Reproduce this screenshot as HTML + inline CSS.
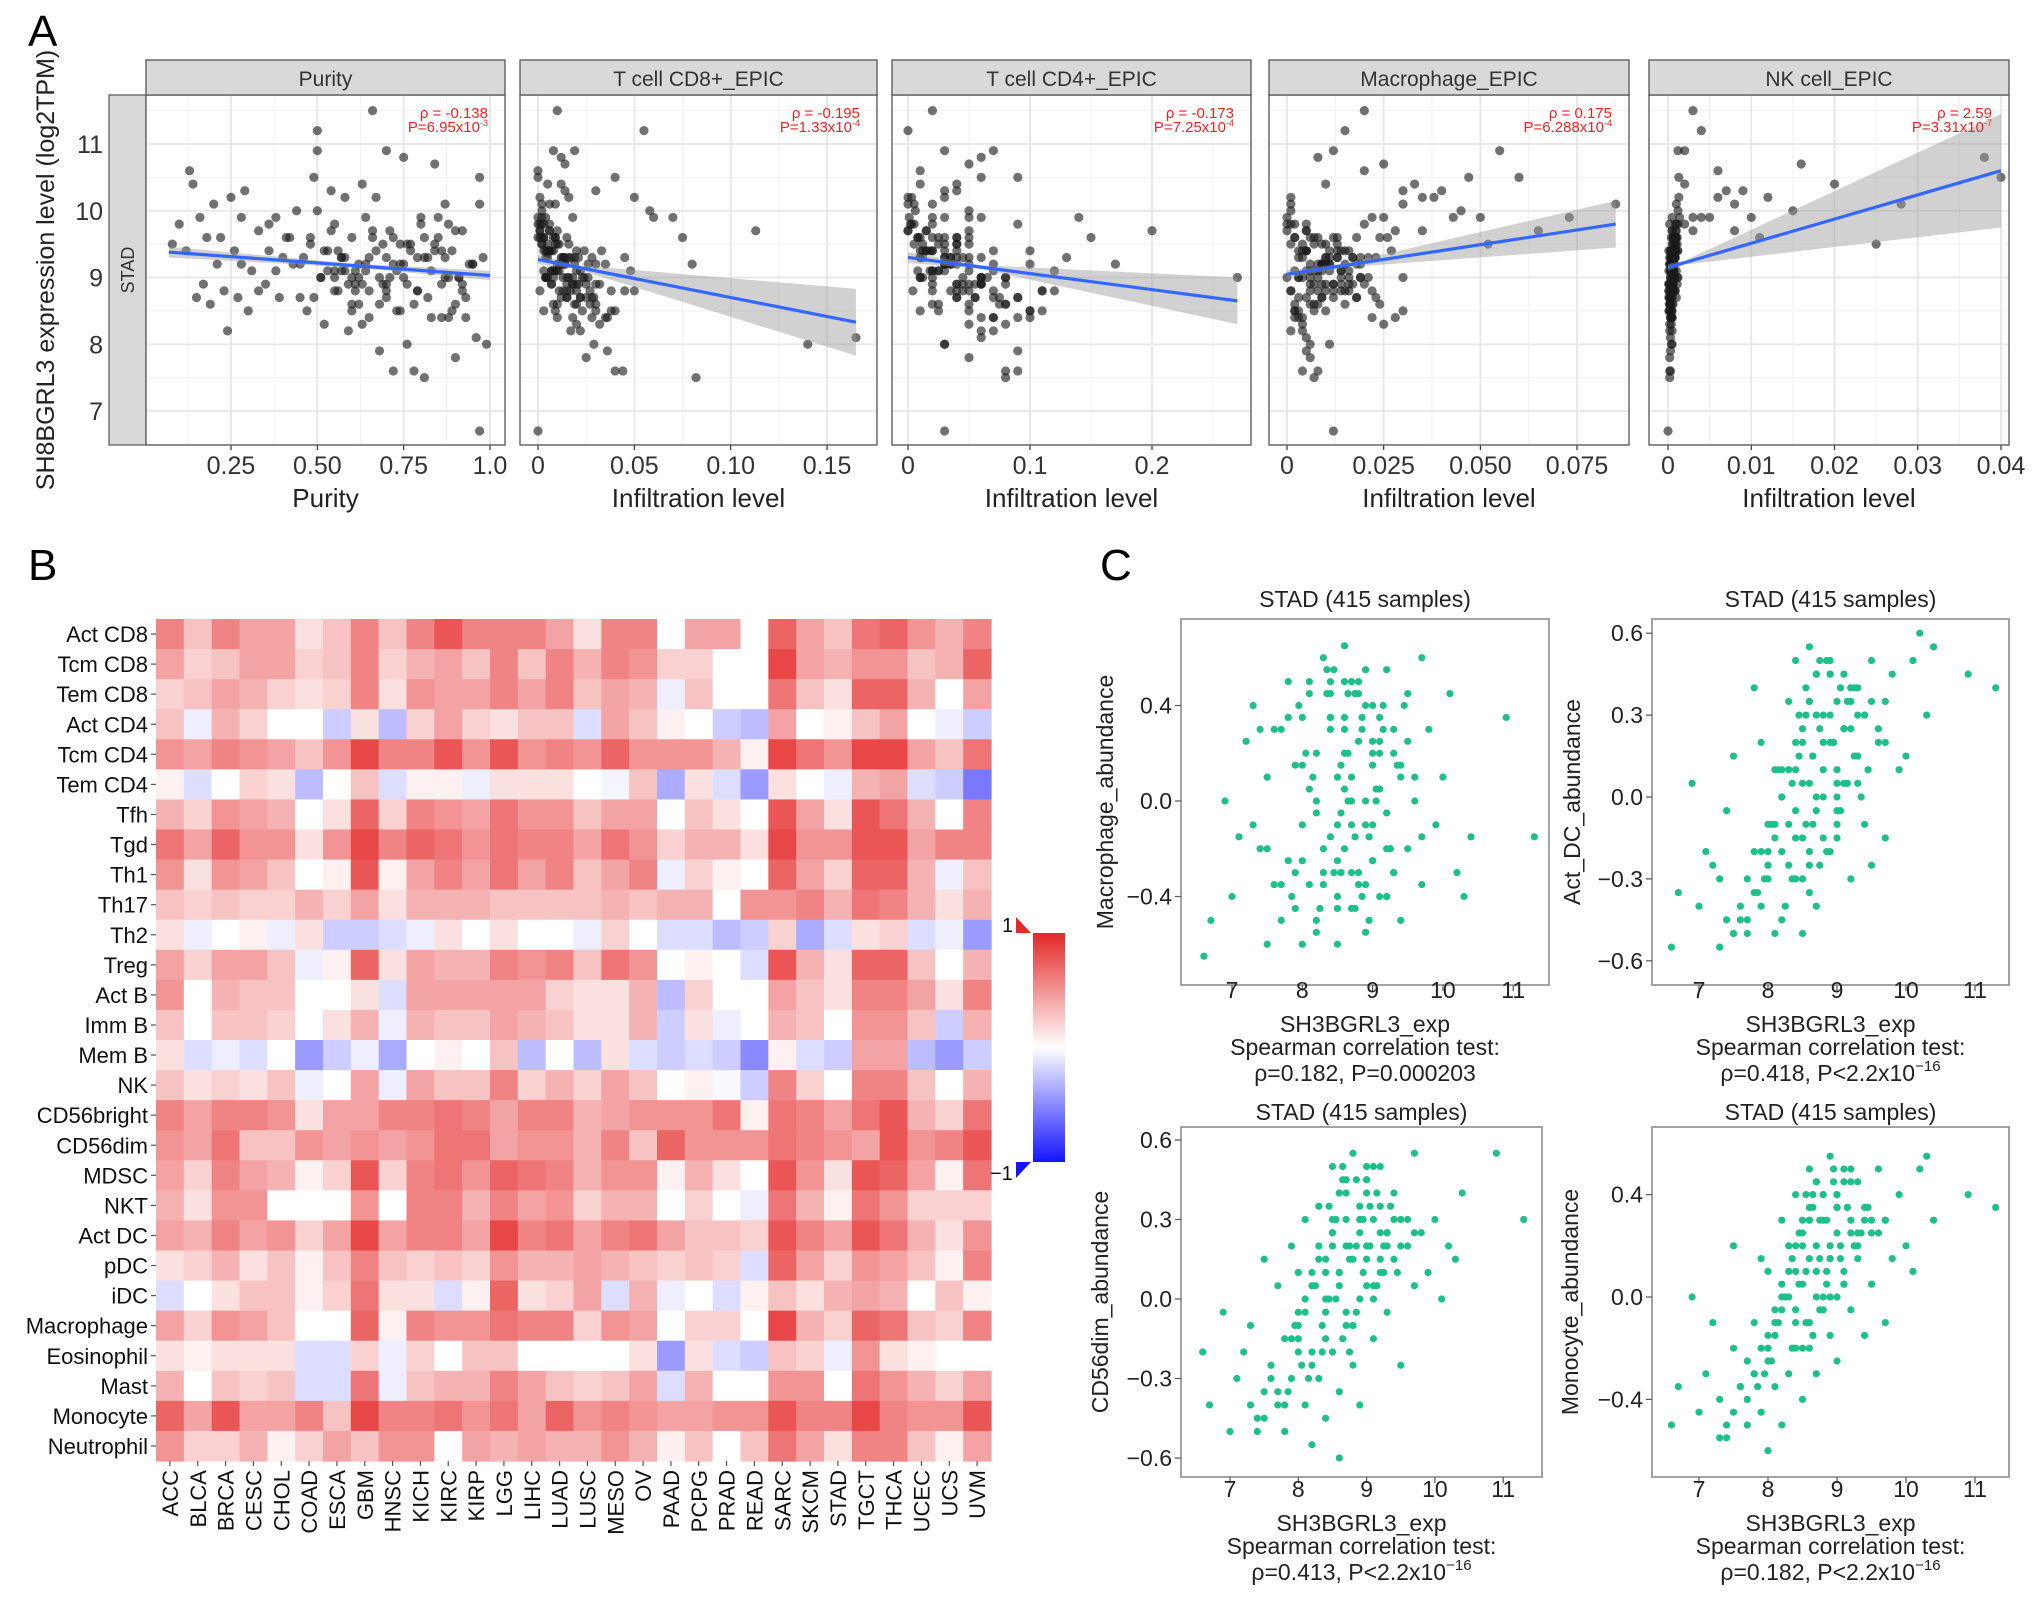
<!DOCTYPE html>
<html><head><meta charset="utf-8">
<style>
html,body{margin:0;padding:0;background:#fff;}
svg{display:block;}
.na{font-family:"Liberation Sans Narrow","Liberation Sans",sans-serif;}
.sa{font-family:"Liberation Sans",sans-serif;}
</style></head>
<body>
<svg id="fig" xmlns="http://www.w3.org/2000/svg" width="2032" height="1600" viewBox="0 0 2032 1600">
<rect x="0" y="0" width="2032" height="1600" fill="#fff"/>
<text x="28" y="46" font-size="44" class="sa">A</text>
<text x="28" y="580" font-size="44" class="sa">B</text>
<text x="1100" y="580" font-size="44" class="sa">C</text>
<text transform="translate(54,270) rotate(-90)" text-anchor="middle" font-size="25" class="sa" fill="#222">SH8BGRL3 expression level (log2TPM)</text>
<rect x="109" y="95" width="37" height="350" fill="#d9d9d9" stroke="#555" stroke-width="1.2"/>
<text transform="translate(134,270) rotate(-90)" text-anchor="middle" font-size="18" class="na" fill="#333">STAD</text>
<g id="gA"></g>
<g id="gB"></g>
<g id="gC"></g>
</svg>
<script>
// ---------- Panel A data ----------
const aExp = [9.5,9.8,9.4,10.6,10.4,8.7,9.9,8.9,9.6,8.6,10.1,9.2,9.6,8.8,8.2,10.2,9.4,8.7,9.9,10.3,8.5,9.1,9.7,8.9,9.4,9.9,8.7,9.3,9.6,10.0,9.2,8.5,9.6,10.5,11.2,10.9,9.0,8.3,9.4,10.3,9.8,8.8,9.3,10.2,8.2,9.6,9.1,8.6,10.4,9.9,8.4,11.5,9.4,7.9,8.9,10.9,9.7,7.6,8.5,9.2,10.8,8.0,9.5,7.6,8.8,9.9,7.5,9.3,8.4,10.7,9.6,8.9,10.1,8.4,9.4,7.8,9.0,9.7,8.7,9.2,8.1,10.5,9.3,8.0,6.7,9.0,9.3,9.1,8.8,9.0];
const aExp2 = [9.0,9.2,8.8,9.5,9.1,8.6,9.3,9.7,8.9,9.4,9.0,8.5,9.6,9.2,8.7,9.8,9.1,8.4,9.3,9.5,8.9,10.0,9.2,8.8,9.4,9.0,8.6,9.7,9.3,8.3,9.1,9.6,8.9,9.2,10.2,8.7,9.4,9.0,8.5,9.8,9.3,8.8,9.1,9.5,9.0,8.6,9.9,9.2,8.9,9.4,9.1,8.4,9.6,9.3,8.7,9.0,9.8,9.2,8.8,9.5,9.1,8.6,9.3,10.1,8.9,9.4,9.0,8.5,9.7,9.2,8.8,9.1,9.6,8.7,9.3,9.0,8.9,9.5,9.2,8.8];
const purityX = [0.08,0.1,0.12,0.13,0.14,0.15,0.16,0.17,0.18,0.19,0.2,0.21,0.22,0.23,0.24,0.25,0.26,0.27,0.28,0.29,0.3,0.31,0.33,0.35,0.36,0.38,0.39,0.4,0.42,0.44,0.45,0.47,0.48,0.49,0.5,0.5,0.51,0.52,0.53,0.54,0.55,0.56,0.57,0.58,0.59,0.6,0.61,0.62,0.63,0.64,0.65,0.66,0.67,0.68,0.69,0.7,0.71,0.72,0.73,0.74,0.75,0.76,0.77,0.78,0.79,0.8,0.81,0.82,0.83,0.84,0.85,0.86,0.87,0.88,0.89,0.9,0.91,0.92,0.93,0.95,0.96,0.97,0.98,0.99,0.97,0.6,0.7,0.55,0.65,0.75];
const purityX2 = [0.55,0.62,0.7,0.48,0.83,0.9,0.58,0.66,0.76,0.52,0.88,0.6,0.72,0.94,0.45,0.8,0.64,0.86,0.57,0.69,0.92,0.5,0.75,0.61,0.84,0.68,0.78,0.54,0.87,0.63,0.73,0.41,0.59,0.95,0.67,0.82,0.56,0.71,0.89,0.36,0.65,0.79,0.53,0.74,0.91,0.6,0.85,0.43,0.7,0.77,0.58,0.93,0.66,0.81,0.49,0.62,0.88,0.72,0.55,0.84,0.38,0.68,0.79,0.97,0.61,0.86,0.51,0.74,0.9,0.64,0.33,0.57,0.81,0.7,0.46,0.87,0.63,0.76,0.28,0.92];
const cd8X = [0.01,0.003,0.02,0.0,0.012,0.025,0.004,0.03,0.015,0.02,0.006,0.035,0.001,0.045,0.017,0.05,0.008,0.028,0.002,0.014,0.04,0.022,0.01,0.032,0.005,0.018,0.012,0.045,0.0,0.058,0.026,0.03,0.075,0.04,0.055,0.008,0.013,0.02,0.003,0.03,0.006,0.038,0.019,0.016,0.022,0.009,0.048,0.027,0.005,0.07,0.018,0.01,0.033,0.036,0.007,0.019,0.001,0.044,0.023,0.08,0.012,0.029,0.002,0.04,0.011,0.06,0.082,0.028,0.01,0.014,0.002,0.018,0.009,0.036,0.024,0.025,0.004,0.113,0.015,0.03,0.165,0.0,0.021,0.14,0.0,0.015,0.013,0.007,0.05,0.016,0.011];
const cd8X2 = [0.004,0.01,0.015,0.002,0.02,0.008,0.012,0.001,0.025,0.006,0.018,0.003,0.009,0.014,0.022,0.0,0.011,0.028,0.005,0.016,0.007,0.002,0.019,0.013,0.004,0.024,0.01,0.006,0.017,0.032,0.008,0.003,0.021,0.012,0.001,0.015,0.005,0.026,0.009,0.002,0.014,0.02,0.007,0.011,0.004,0.03,0.0,0.013,0.018,0.006,0.009,0.035,0.003,0.016,0.022,0.008,0.001,0.012,0.027,0.005,0.01,0.019,0.004,0.002,0.015,0.007,0.023,0.038,0.006,0.011,0.017,0.003,0.008,0.029,0.013,0.005,0.02,0.009,0.014,0.001];
const cd4X = [0.05,0.02,0.07,0.01,0.04,0.09,0.03,0.06,0.05,0.08,0.0,0.1,0.03,0.12,0.06,0.0,0.04,0.09,0.02,0.03,0.11,0.07,0.05,0.08,0.02,0.06,0.04,0.13,0.01,0.05,0.07,0.1,0.15,0.06,0.0,0.03,0.08,0.05,0.02,0.04,0.09,0.11,0.06,0.03,0.07,0.04,0.12,0.08,0.01,0.05,0.06,0.02,0.1,0.09,0.04,0.07,0.0,0.08,0.05,0.17,0.06,0.03,0.04,0.09,0.02,0.14,0.08,0.03,0.1,0.05,0.04,0.06,0.02,0.07,0.03,0.05,0.27,0.2,0.07,0.04,0.06,0.09,0.01,0.03,0.03,0.08,0.05,0.02,0.11,0.06,0.04];
const cd4X2 = [0.01,0.03,0.04,0.005,0.05,0.02,0.03,0.0,0.06,0.015,0.045,0.01,0.025,0.035,0.055,0.002,0.03,0.07,0.012,0.04,0.02,0.006,0.05,0.035,0.01,0.06,0.025,0.015,0.045,0.08,0.02,0.008,0.055,0.03,0.003,0.04,0.012,0.065,0.025,0.005,0.035,0.05,0.018,0.03,0.01,0.075,0.001,0.035,0.045,0.015,0.025,0.09,0.008,0.04,0.055,0.02,0.003,0.03,0.07,0.012,0.025,0.05,0.01,0.005,0.04,0.018,0.06,0.1,0.015,0.03,0.045,0.008,0.02,0.075,0.035,0.012,0.05,0.025,0.035,0.004];
const macX = [0.01,0.005,0.015,0.02,0.01,0.003,0.025,0.012,0.008,0.002,0.03,0.006,0.018,0.001,0.004,0.035,0.011,0.009,0.022,0.04,0.003,0.014,0.028,0.007,0.016,0.05,0.005,0.019,0.012,0.045,0.009,0.002,0.026,0.06,0.015,0.055,0.008,0.004,0.013,0.03,0.02,0.006,0.017,0.038,0.001,0.024,0.011,0.007,0.033,0.043,0.003,0.02,0.014,0.005,0.009,0.012,0.065,0.004,0.01,0.018,0.008,0.006,0.052,0.008,0.015,0.073,0.007,0.021,0.002,0.025,0.013,0.01,0.085,0.004,0.027,0.006,0.016,0.035,0.009,0.019,0.005,0.047,0.017,0.011,0.012,0.0,0.023,0.014,0.008,0.03,0.02];
const macX2 = [0.003,0.008,0.012,0.001,0.016,0.006,0.01,0.0,0.02,0.005,0.014,0.002,0.007,0.011,0.018,0.0,0.009,0.022,0.004,0.013,0.006,0.001,0.015,0.01,0.003,0.019,0.008,0.005,0.013,0.025,0.006,0.002,0.017,0.009,0.001,0.012,0.004,0.021,0.007,0.002,0.011,0.016,0.005,0.009,0.003,0.024,0.0,0.01,0.014,0.005,0.007,0.028,0.002,0.013,0.018,0.006,0.001,0.01,0.022,0.004,0.008,0.015,0.003,0.001,0.012,0.005,0.019,0.03,0.005,0.009,0.014,0.002,0.006,0.023,0.01,0.004,0.016,0.007,0.011,0.001];
const nkX = [0.0005,0.001,0.0003,0.006,0.002,0.0004,0.004,0.0006,0.0008,0.0002,0.008,0.0007,0.001,0.0003,0.0005,0.012,0.0009,0.0002,0.005,0.007,0.0004,0.0006,0.003,0.0001,0.0008,0.01,0.0003,0.0005,0.0011,0.015,0.0007,0.0002,0.0009,0.0013,0.004,0.002,0.0006,0.0004,0.0012,0.009,0.002,0.0003,0.0008,0.006,0.0002,0.011,0.0007,0.0005,0.02,0.003,0.0004,0.003,0.0009,0.0003,0.0006,0.0012,0.001,0.0002,0.0005,0.0007,0.038,0.0004,0.025,0.0003,0.0008,0.0014,0.0002,0.0006,0.0005,0.016,0.0009,0.0003,0.028,0.0005,0.0011,0.0002,0.0007,0.008,0.0004,0.0006,0.0003,0.04,0.0008,0.0005,0.0,0.0012,0.0007,0.0004,0.0009,0.0006,0.0003];
const nkX2 = [0.0003,0.0006,0.0001,0.0009,0.0004,0.0002,0.0007,0.0005,0.0011,0.0003,0.0008,0.0001,0.0006,0.0004,0.001,0.0002,0.0007,0.0003,0.0005,0.0009,0.0002,0.0012,0.0004,0.0006,0.0001,0.0008,0.0003,0.0005,0.0007,0.0002,0.001,0.0004,0.0006,0.0003,0.0013,0.0001,0.0008,0.0005,0.0002,0.0009,0.0004,0.0007,0.0003,0.0006,0.0011,0.0002,0.0005,0.0008,0.0001,0.0004,0.0007,0.0003,0.0006,0.0009,0.0002,0.0005,0.0012,0.0004,0.0001,0.0008,0.0003,0.0006,0.0002,0.001,0.0005,0.0007,0.0003,0.0004,0.0009,0.0002,0.0006,0.0001,0.0008,0.0005,0.0003,0.0007,0.0004,0.0011,0.0002,0.0006];
const facetNames = ["Purity","T cell CD8+_EPIC","T cell CD4+_EPIC","Macrophage_EPIC","NK cell_EPIC"];
const facetXTicks = [[0.25,0.5,0.75,1.0],[0,0.05,0.10,0.15],[0,0.1,0.2],[0,0.025,0.05,0.075],[0,0.01,0.02,0.03,0.04]];
const facetXLabels = [["0.25","0.50","0.75","1.0"],["0","0.05","0.10","0.15"],["0","0.1","0.2"],["0","0.025","0.050","0.075"],["0","0.01","0.02","0.03","0.04"]];
const facetTitles = ["Purity","Infiltration level","Infiltration level","Infiltration level","Infiltration level"];
const facetRho = ["ρ = -0.138","ρ = -0.195","ρ = -0.173","ρ = 0.175","ρ = 2.59"];
const facetP = ["P=6.95x10","P=1.33x10","P=7.25x10","P=6.288x10","P=3.31x10"];
const facetPExp = ["-3","-4","-4","-4","-7"];
const fitStart = [[0.07,9.38],[0,9.27],[0,9.3],[0,9.05],[0,9.15]];
const fitEnd = [[1.0,9.03],[0.165,8.33],[0.27,8.65],[0.085,9.8],[0.04,10.6]];
const fitMidX = [0.6,0.02,0.06,0.015,0.002];
const bandHalf = [[0.08,0.03,0.07],[0.07,0.03,0.5],[0.08,0.03,0.35],[0.06,0.03,0.35],[0.05,0.03,0.85]];
const aYTicks = [7,8,9,10,11];

// ---------- Panel B data ----------
const heatRows = ["Act CD8","Tcm CD8","Tem CD8","Act CD4","Tcm CD4","Tem CD4","Tfh","Tgd","Th1","Th17","Th2","Treg","Act B","Imm B","Mem B","NK","CD56bright","CD56dim","MDSC","NKT","Act DC","pDC","iDC","Macrophage","Eosinophil","Mast","Monocyte","Neutrophil"];
const heatCols = ["ACC","BLCA","BRCA","CESC","CHOL","COAD","ESCA","GBM","HNSC","KICH","KIRC","KIRP","LGG","LIHC","LUAD","LUSC","MESO","OV","PAAD","PCPG","PRAD","READ","SARC","SKCM","STAD","TGCT","THCA","UCEC","UCS","UVM"];
// correlation levels in sevenths (value = level/7)
const heatLevels = [
[4,2,4,3,3,1,2,4,2,4,5.5,4,4,4,3,1,4,4,0,3,3,0,5,3,2,4.5,5,3.5,2.5,4],
[3,1.5,2,3,3,1.5,2,4,1.5,2.5,3,2,4,2,4,2.5,4,3.5,1.5,1.5,0,0,6,3,2.5,3.5,3.5,2,2.5,5],
[1.5,2,3,2.5,1.5,1,1.5,4,1,3.5,3,3,4,3,4,2,3,2.5,-0.5,2,0,0,4.5,2,1,5,5,2.5,0,3],
[2,-0.5,2.5,1.5,0,0,-1.5,1,-2,1.5,3,1.5,1,2,2,-1,3,2,0.5,0,-1.5,-2,3,0,0.5,2,3,0,-0.5,-1.5],
[3.5,3,4,3.5,3,2,3.5,6,4,4,5.5,3.5,5.5,3.5,4,3.5,5,3.5,3.5,3.5,2.5,0.5,6,4.5,3.5,6,6,3,2,4.5],
[0.5,-1,0,1.5,1,-2,0,2,-1,0.5,0.5,-0.5,1,1,1,0,-0.3,2,-2.5,1,-1,-3,1,0,-0.5,2.5,3,-1,-1.5,-4],
[2.5,1.5,3.5,3,2.5,0,1,5,1.5,4,3.5,3,4.5,3.5,3.5,2,3,3,0,2,1,0,5.5,3,1,5.5,4.5,2.5,0,4],
[4.5,3,5,3.5,3.5,1,3.5,6,4,5,4.5,3.5,4.5,4,4,3,4.5,3.5,1.5,2.5,2.5,1,6,3.5,3.5,5.5,5.5,3,4,4],
[3.5,1,3.5,3,2,0,0.5,5.5,0.5,3,4,3,4.5,3,4,2,3,4,-0.5,1.5,0.5,0,5,3,1.5,5,5,2.5,-0.5,2],
[2,1.5,2,1.5,1.5,2.5,1.5,3,1,2.5,2.5,2.5,2,2,2,2,2.5,2,2.5,2.5,0,3.5,3.5,4,2.5,4.5,4,2.5,1,2.5],
[1,-0.5,0,0.5,-0.5,1,-1.5,-1.5,-1,-0.5,1,0,1,0,0,-0.5,1.5,0,-1,-1,-2,-1.5,1.5,-2.5,-1,1,1.5,-1,-0.5,-3],
[3,1.5,3,3,2,-0.5,0.5,5,1,3,2.5,2.5,4,3.5,4,2,4.5,3.5,0,0.5,0,-1,5.5,2.5,1,5,5,2,0,2.5],
[3.5,0,2.5,2,2,0,0,1,-1,3,3,3,3,3,1.5,1,1,2.5,-2,1.5,0,0,3,2,1,4,4,3,1,4],
[2,0,2,2,1.5,0,1,2.5,-0.5,2.5,2,2,3,2.5,2,1,1,2.5,-1.5,1,-0.5,0,2.5,2,0,3.5,3.5,2,-1.5,2.5],
[1,-1,-0.5,-1,0,-3,-1.5,-0.5,-2.5,0,0.5,0,2,-2,0,-2,1,-1,-1.5,-1,-1.5,-3.5,0.5,-1,-1.5,3,3,-2,-3,-1.5],
[2,1,1.5,1,2,-0.5,0,3,-0.5,3,2,2,4,1.5,2.5,1.5,3,2,0,0.5,-0.2,-1.5,4,1.5,0,4,4,2,0,2.5],
[4,3,4,4,3.5,1,3,3,4,4,4.5,4,3,4,4,2.5,3,3.5,3.5,3.5,4.5,0.5,4.5,4,3,4.5,5.5,2.5,1.5,4.5],
[3.5,3,4.5,2,2,3.5,3,3.5,3,3.5,4.5,4.5,3,3.5,3.5,2.5,4,2,5,3.5,3.5,3.5,4.5,4,3.5,3,5.5,3.5,4,5.5],
[3,1.5,4,3,2.5,0.5,1.5,5.5,1.5,4,4.5,3.5,5,4.5,4,2.5,3.5,3.5,0.5,2.5,1,0,5.5,3.5,1,5.5,5,3,0.5,4.5],
[2.5,1,3.5,3.5,0,0,0,3.5,0,4,4,2.5,4,3,3.5,1.5,2.5,2.5,0,1.5,0,-0.5,4.5,2.5,0.5,4.5,3.5,1.5,1.5,1.5],
[3,2.5,4,3,3.5,1.5,3,6,3,4,4,3,6,4,4.5,3,4,4.5,3,2,2,1.5,5.5,4,3,5.5,4.5,2.5,1,3.5],
[1,1.5,2.5,1,2,0.5,2,4,2,1.5,2,1.5,3.5,2.5,2.5,3,2.5,2,1.5,2,1.5,-1,5,3,1.5,3.5,3,2,0.5,4],
[-1,0,1,2,2,0.5,1.5,4.5,1,1,-1,0.5,5,1,1.5,3,-1,2.5,-0.5,0,-1,0.5,2,1,2.5,3,2.5,0,2,0.5],
[3,1.5,3.5,3,2,0,0,5,0.5,4,3.5,3.5,4.5,4,4,1.5,3.5,3,0,1.5,1.5,0,6,2.5,1.5,5,4.5,2,1.5,4],
[1,0.5,1,1,1,-1,-1,1.5,-0.5,1.5,0,2,2,0,0,0,0,1,-3,1,-1,-1.5,2,1.5,-0.5,3.5,1,0.5,0,0],
[2.5,0,2,1.5,2,-1,-1,4.5,-0.5,2,2.5,2.5,4,3,2,1.5,2,3,-1,2.5,0,0,3.5,3.5,0,4.5,3.5,2.5,1.5,3],
[5,3,5.5,3,3,4,2,6,4,4,4.5,3.5,4.5,3,5,3.5,4,3.5,3,3,3.5,3.5,5.5,4,4,6,4,3.5,3.5,5.5],
[3.5,1.5,1.5,2.5,0.5,1.5,3,2,3.5,3.5,0,3,2.5,3,2.5,2.5,3.5,2.5,0.5,2,0,2,4.5,3,1,4,4,2,0.5,3]
];

// ---------- Panel C data ----------
const cExp = [6.6,6.7,6.9,7.0,7.1,7.2,7.3,7.4,7.5,7.5,7.6,7.7,7.7,7.8,7.8,7.9,7.9,8.0,8.0,8.1,8.1,8.2,8.2,8.2,8.3,8.3,8.4,8.4,8.4,8.5,8.5,8.5,8.6,8.6,8.6,8.7,8.7,8.7,8.8,8.8,8.9,8.9,8.9,9.0,9.0,9.1,9.1,9.2,9.2,9.3,9.3,9.4,9.4,9.5,9.5,9.6,9.7,9.7,9.8,9.9,10.0,10.1,10.2,10.3,10.4,10.9,11.3,8.0,8.6,9.0];
const cExp2 = [7.6,7.9,8.1,8.3,8.4,8.5,8.6,8.7,8.8,8.9,9.0,9.1,9.2,9.3,7.8,8.0,8.2,8.35,8.45,8.55,8.65,8.75,8.85,8.95,9.05,9.15,9.25,9.4,7.7,8.05,8.25,8.4,8.5,8.6,8.7,8.8,8.9,9.0,9.1,9.2,9.35,9.5,7.5,7.95,8.15,8.3,8.45,8.55,8.65,8.75,8.85,8.95,9.05,9.15,9.3,9.6,7.4,7.85,8.1,8.35,8.5,8.6,8.7,8.8,8.9,9.0,9.1,9.25,9.45,9.7,7.3,8.0,8.2,8.4,8.55,8.65,8.75,8.85,9.0,9.2];
const macAbund = [-0.65,-0.5,0.0,-0.4,-0.15,0.25,0.4,-0.2,-0.6,0.1,-0.35,0.3,-0.5,0.5,-0.25,0.15,-0.45,0.35,-0.1,0.5,-0.35,0.2,-0.55,0.0,0.6,-0.3,0.3,-0.15,0.45,-0.4,0.1,-0.6,0.65,-0.2,0.35,0.5,-0.45,0.0,0.25,-0.3,0.55,-0.1,-0.55,0.4,-0.25,0.2,-0.4,0.55,-0.05,0.3,-0.3,0.15,-0.5,0.45,-0.2,0.0,0.6,-0.35,0.3,-0.1,0.1,0.45,-0.3,-0.4,-0.15,0.35,-0.15,-0.6,0.05,0.15];
const macAbund2 = [0.3,-0.3,0.45,-0.2,0.35,-0.45,0.5,0.1,-0.35,0.4,-0.1,0.25,-0.4,0.2,0.35,-0.25,-0.05,0.55,-0.3,0.15,0.45,-0.15,0.3,-0.5,0.05,0.4,-0.2,0.1,-0.35,0.2,-0.45,0.5,-0.1,0.3,-0.3,0.45,0.0,-0.25,0.35,-0.4,0.15,0.25,-0.2,0.4,0.1,-0.35,0.55,-0.05,0.2,-0.45,0.35,-0.15,0.0,0.3,-0.3,0.1,0.3,-0.4,0.05,0.45,-0.25,0.2,-0.1,0.5,-0.35,0.25,0.05,-0.2,0.4,-0.15,-0.1,0.15,-0.5,0.35,-0.3,0.0,0.45,-0.4,0.2,-0.2];
const actDCAbund = [-0.55,-0.35,0.05,-0.4,-0.2,-0.25,-0.3,-0.05,-0.5,0.15,-0.45,-0.3,-0.5,-0.2,0.4,-0.4,0.2,-0.1,-0.3,-0.5,0.1,-0.2,-0.45,0.0,-0.1,0.35,-0.3,0.1,0.5,-0.15,0.25,-0.5,0.55,-0.25,0.05,0.3,-0.4,0.45,0.0,-0.15,0.2,0.5,-0.2,0.35,-0.05,0.05,0.45,0.25,-0.3,0.15,0.4,-0.1,0.3,0.5,-0.25,0.2,0.35,-0.15,0.45,0.1,0.15,0.5,0.6,0.3,0.55,0.45,0.4,-0.25,-0.35,0.0];
const actDCAbund2 = [-0.4,-0.2,-0.1,0.1,-0.15,0.2,0.35,-0.05,0.3,0.45,0.1,0.25,0.4,0.05,-0.35,-0.25,0.0,-0.3,0.15,0.4,-0.1,0.25,0.5,0.2,-0.05,0.35,0.15,0.3,-0.45,-0.1,-0.4,0.2,0.05,-0.2,0.45,0.1,0.3,-0.15,0.25,0.4,0.0,0.35,-0.5,-0.3,0.1,-0.25,0.3,-0.1,0.15,0.5,-0.2,0.2,0.4,0.05,0.3,0.25,-0.45,-0.35,-0.15,0.05,-0.3,0.35,0.0,0.2,0.45,-0.1,0.25,0.4,0.1,0.2,-0.55,-0.2,0.1,-0.05,0.3,0.15,-0.25,0.5,0.05,0.35];
const cd56Abund = [-0.2,-0.4,-0.05,-0.5,-0.3,-0.2,-0.1,-0.45,-0.35,0.15,-0.25,-0.4,0.05,-0.15,-0.5,0.2,-0.3,-0.1,0.1,-0.4,0.3,-0.2,-0.55,0.05,-0.3,0.35,0.15,-0.45,-0.05,0.25,-0.2,0.5,-0.35,0.1,0.4,0.2,-0.1,0.3,-0.25,0.55,0.0,0.35,-0.4,0.2,0.45,-0.15,0.3,0.1,0.5,0.25,-0.05,0.4,0.15,0.3,-0.25,0.2,0.55,0.05,0.25,0.1,0.3,0.0,0.2,0.15,0.4,0.55,0.3,-0.15,-0.6,0.45];
const cd56Abund2 = [-0.3,-0.15,-0.05,0.2,0.0,0.3,0.1,0.45,-0.1,0.25,0.4,0.05,0.35,0.2,-0.4,-0.2,0.1,-0.1,0.35,0.0,0.5,0.15,-0.05,0.3,0.2,0.4,0.1,0.3,-0.35,-0.25,0.05,-0.15,0.25,0.4,-0.05,0.15,0.3,0.5,0.0,0.25,0.35,0.2,-0.45,-0.1,-0.3,0.15,0.0,0.3,0.45,-0.2,0.2,0.1,0.35,0.05,0.25,0.3,-0.5,-0.35,0.0,-0.2,0.2,0.05,0.4,-0.1,0.3,0.15,0.5,0.2,0.1,0.25,-0.4,-0.05,-0.25,0.1,0.3,-0.15,0.2,0.45,0.05,0.15];
const monoAbund = [-0.5,-0.35,0.0,-0.45,-0.3,-0.1,-0.4,-0.55,-0.2,0.2,-0.35,-0.25,-0.5,-0.1,-0.3,0.15,-0.45,-0.2,0.1,-0.35,-0.15,0.3,-0.5,-0.05,0.0,-0.3,0.4,-0.2,0.1,0.25,-0.4,0.05,0.5,-0.1,0.35,0.2,-0.3,0.45,0.0,0.3,-0.15,0.55,0.15,-0.25,0.4,0.1,0.5,-0.05,0.3,0.2,0.45,-0.15,0.35,0.05,0.25,0.5,-0.1,0.3,0.15,0.4,0.2,0.1,0.5,0.55,0.3,0.4,0.35,-0.6,-0.2,0.0];
const monoAbund2 = [-0.35,-0.2,-0.1,0.1,-0.05,0.2,0.3,0.0,0.4,0.15,0.35,0.05,0.45,0.25,-0.3,-0.15,0.05,-0.2,0.25,0.1,0.4,-0.05,0.3,0.5,0.15,0.35,0.2,0.3,-0.4,-0.25,0.0,-0.1,0.3,0.15,0.45,-0.05,0.2,0.35,0.05,0.5,0.25,0.3,-0.45,-0.3,-0.1,0.2,0.05,0.4,-0.15,0.3,0.1,0.45,0.2,0.35,0.15,0.25,-0.5,-0.35,-0.05,0.15,-0.2,0.3,0.1,0.4,0.0,0.25,0.45,0.2,0.35,0.3,-0.55,-0.25,0.0,0.2,-0.1,0.35,0.15,0.05,0.4,0.25];
const cYTitles = ["Macrophage_abundance","Act_DC_abundance","CD56dim_abundance","Monocyte_abundance"];
const cYTicks = [[0.4,0.0,-0.4],[0.6,0.3,0.0,-0.3,-0.6],[0.6,0.3,0.0,-0.3,-0.6],[0.4,0.0,-0.4]];
const cYTickLabels = [["0.4","0.0","−0.4"],["0.6","0.3","0.0","−0.3","−0.6"],["0.6","0.3","0.0","−0.3","−0.6"],["0.4","0.0","−0.4"]];
const cXTicks = [7,8,9,10,11];
const cRho = ["ρ=0.182, P=0.000203","ρ=0.418, P<2.2x10","ρ=0.413, P<2.2x10","ρ=0.182, P<2.2x10"];
const cRhoExp = ["","−16","−16","−16"];

// ---------- drawing ----------
const NS = "http://www.w3.org/2000/svg";
function mk(parent, tag, attrs){ const e=document.createElementNS(NS,tag); for(const k in attrs) e.setAttribute(k,attrs[k]); parent.appendChild(e); return e; }

// Panel A
const gA = document.getElementById("gA");
const facetPx = [[146,505],[520,877],[892,1251],[1269,1629],[1649,2009]];
const facetRef = [[0.25,231,345.3],[0,538,1927],[0,908,1220],[0,1287,3867],[0,1668,8325]];
const facetXs = [[purityX,purityX2],[cd8X,cd8X2],[cd4X,cd4X2],[macX,macX2],[nkX,nkX2]];
const aYs = [aExp,aExp2];
const aTop=95, aBot=445;
function ay(v){ return 144 + (11 - v)*66.75; }
for(let f=0; f<5; f++){
  const [L,R] = facetPx[f];
  const ref = facetRef[f];
  const ax = v => ref[1] + (v - ref[0])*ref[2];
  const g = mk(gA,"g",{});
  
  
  const bg = mk(g,"rect",{x:L,y:aTop,width:R-L,height:aBot-aTop,fill:"#fff"});
  
  
  for(let i=0;i<aYTicks.length+1;i++){
    const v = aYTicks[0]-0.5+i;
    const yy = ay(v);
    if(yy>aTop && yy<aBot){ const ln=mk(g,"line",{x1:L,x2:R,y1:yy,y2:yy,stroke:"#f2f2f2","stroke-width":1.2});   }
  }
  const xt = facetXTicks[f];
  const step = xt[1]-xt[0];
  for(let i=-1;i<xt.length;i++){
    const xx = ax(xt[0]+step*(i+0.5));
    if(xx>L && xx<R){ const ln=mk(g,"line",{x1:xx,x2:xx,y1:aTop,y2:aBot,stroke:"#f2f2f2","stroke-width":1.2});   }
  }
  for(const v of aYTicks){
    const ln=mk(g,"line",{x1:L,x2:R,y1:ay(v),y2:ay(v),stroke:"#e6e6e6","stroke-width":1.8});
    
    
  }
  xt.forEach((v,i)=>{
    const xx=ax(v);
    const ln=mk(g,"line",{x1:xx,x2:xx,y1:aTop,y2:aBot,stroke:"#e6e6e6","stroke-width":1.8});
    
    
    const tk=mk(g,"line",{x1:xx,x2:xx,y1:aBot,y2:aBot+5,stroke:"#333","stroke-width":1.2});
    
    
    const t=mk(g,"text",{x:xx,y:474,"text-anchor":"middle","font-size":25,class:"na",fill:"#333"});
    t.textContent=facetXLabels[f][i];
    
    
  });
  for(let s=0;s<2;s++){
    const xs = facetXs[f][s], ys = aYs[s];
    const n = Math.min(xs.length, ys.length);
    for(let i=0;i<n;i++){
      const c=mk(g,"circle",{cx:ax(xs[i]),cy:ay(ys[i]),r:4.6,fill:"#1a1a1a","fill-opacity":0.62});
      
      
    }
  }
  const s=fitStart[f], e=fitEnd[f], bh=bandHalf[f];
  const slope=(e[1]-s[1])/(e[0]-s[0]);
  const fy = x => s[1] + (x - s[0])*slope;
  const xsB=[s[0],fitMidX[f],e[0]];
  const up=xsB.map((x,i)=>ax(x)+","+ay(fy(x)+bh[i]));
  const lo=xsB.map((x,i)=>ax(x)+","+ay(fy(x)-bh[i])).reverse();
  const band=mk(g,"polygon",{points:up.concat(lo).join(" "),fill:"#999","fill-opacity":0.45});
  
  
  const fl=mk(g,"line",{x1:ax(s[0]),y1:ay(s[1]),x2:ax(e[0]),y2:ay(e[1]),stroke:"#3366ff","stroke-width":3.2});
  
  
  const br=mk(g,"rect",{x:L,y:aTop,width:R-L,height:aBot-aTop,fill:"none",stroke:"#555","stroke-width":1.3});
  
  
  const st=mk(g,"rect",{x:L,y:60,width:R-L,height:35,fill:"#d9d9d9",stroke:"#555","stroke-width":1.3});
  
  
  const stt=mk(g,"text",{x:(L+R)/2,y:86,"text-anchor":"middle","font-size":21,class:"na",fill:"#333"});
  stt.textContent=facetNames[f];
  
  
  const r1=mk(g,"text",{x:R-17,y:118,"text-anchor":"end","font-size":15,class:"sa",fill:"#ee2222"});
  r1.textContent=facetRho[f];
  
  
  const r2=mk(g,"text",{x:R-17,y:132,"text-anchor":"end","font-size":15,class:"sa",fill:"#ee2222"});
  r2.textContent=facetP[f];
  const sup=document.createElementNS(NS,"tspan"); sup.setAttribute("font-size","9"); sup.setAttribute("dy","-6"); sup.textContent=facetPExp[f]; r2.appendChild(sup);
  
  
  const xtl=mk(g,"text",{x:(L+R)/2,y:507,"text-anchor":"middle","font-size":26,class:"na",fill:"#222"});
  xtl.textContent=facetTitles[f];
  
  
}
for(const v of aYTicks){
  const t=mk(gA,"text",{x:103,y:ay(v)+9,"text-anchor":"end","font-size":25,class:"na",fill:"#333"});
  t.textContent=String(v);
  
  
}

// Panel B heatmap
const gB=document.getElementById("gB");
const hL=156, hR=991, hT=619, hBt=1461;
const cw=(hR-hL)/heatCols.length, rh=(hBt-hT)/heatRows.length;
function heatColor(level){
  let t=level/7;
  if(t>=0){ t=Math.min(t,1); return `rgb(${Math.round(255-27*t)},${Math.round(255-215*t)},${Math.round(255-215*t)})`; }
  t=Math.min(-t,1); return `rgb(${Math.round(255-235*t)},${Math.round(255-235*t)},255)`;
}
heatRows.forEach((rn,r)=>{
  heatCols.forEach((cn,c)=>{
    const cell=mk(gB,"rect",{x:hL+c*cw,y:hT+r*rh,width:cw+0.6,height:rh+0.6,fill:heatColor(heatLevels[r][c])});
    
    
  });
  const yy=hT+(r+0.5)*rh;
  const tk=mk(gB,"line",{x1:hL-5,x2:hL,y1:yy,y2:yy,stroke:"#555","stroke-width":1.2});
  
  
  const t=mk(gB,"text",{x:hL-8,y:yy+8,"text-anchor":"end","font-size":22,class:"sa",fill:"#111"});
  t.textContent=rn;
  
  
});
heatCols.forEach((cn,c)=>{
  const xx=hL+(c+0.5)*cw;
  const tk=mk(gB,"line",{x1:xx,x2:xx,y1:hBt,y2:hBt+5,stroke:"#555","stroke-width":1.2});
  
  
  const t=mk(gB,"text",{transform:`translate(${xx+8},${hBt+9}) rotate(-90)`,"text-anchor":"end","font-size":22,class:"sa",fill:"#111"});
  t.textContent=cn;
  
  
});
const defs=mk(gB,"defs",{});
const lg=mk(defs,"linearGradient",{id:"cbg",x1:0,y1:0,x2:0,y2:1});
mk(lg,"stop",{offset:"0%","stop-color":"rgb(228,40,40)"});
mk(lg,"stop",{offset:"50%","stop-color":"#ffffff"});
mk(lg,"stop",{offset:"100%","stop-color":"rgb(20,20,255)"});
const cb=mk(gB,"rect",{x:1033,y:933,width:32,height:229,fill:"url(#cbg)"});


const tr1=mk(gB,"polygon",{points:"1016,917 1016,933 1031,933",fill:"rgb(228,40,40)"});


const tr2=mk(gB,"polygon",{points:"1016,1162 1031,1162 1016,1178",fill:"rgb(20,20,255)"});


const cl1=mk(gB,"text",{x:1002,y:932,"font-size":20,class:"sa",fill:"#111"}); cl1.textContent="1";


const cl2=mk(gB,"text",{x:990,y:1180,"font-size":20,class:"sa",fill:"#111"}); cl2.textContent="−1";



// Panel C
const gC=document.getElementById("gC");
const cBoxes=[[1181,1549,619,985],[1652,2009,619,985],[1181,1542,1127,1477],[1652,2009,1127,1477]];
const cXMap=[[1232,70.3],[1699,69],[1230,68.3],[1699,69]];
const cYMap=[[801,238.75],[797,273],[1299,265],[1297,256]];
const cYs=[[macAbund,macAbund2],[actDCAbund,actDCAbund2],[cd56Abund,cd56Abund2],[monoAbund,monoAbund2]];
const cXs=[cExp,cExp2];
const cTextY=[[599,1024,1047,1073],[599,1024,1047,1073],[1112,1523,1546,1572],[1112,1523,1546,1572]];
const cYTitleX=[1113,1580,1108,1578];
for(let p=0;p<4;p++){
  const [L,R,T,B]=cBoxes[p];
  const cx=v=>cXMap[p][0]+(v-7)*cXMap[p][1];
  const cy=v=>cYMap[p][0]-v*cYMap[p][1];
  const g=mk(gC,"g",{});
  
  
  for(let s=0;s<2;s++){
    const ys=cYs[p][s], xs=cXs[s];
    const n=Math.min(ys.length,xs.length);
    for(let i=0;i<n;i++){
      const c=mk(g,"circle",{cx:cx(xs[i]),cy:cy(ys[i]),r:3.6,fill:"#1ec08a"});
      
      
    }
  }
  const bx=mk(g,"rect",{x:L,y:T,width:R-L,height:B-T,fill:"none",stroke:"#999","stroke-width":1.8});
  
  
  cXTicks.forEach(v=>{
    const tk=mk(g,"line",{x1:cx(v),x2:cx(v),y1:B,y2:B+6,stroke:"#555","stroke-width":1.2});
    
    
    const t=mk(g,"text",{x:cx(v),y:cTextY[p][1]-26,"text-anchor":"middle","font-size":23,class:"sa",fill:"#222"});
    t.textContent=String(v);
    
    
  });
  cYTicks[p].forEach((v,i)=>{
    const tk=mk(g,"line",{x1:L-6,x2:L,y1:cy(v),y2:cy(v),stroke:"#555","stroke-width":1.2});
    
    
    const t=mk(g,"text",{x:L-9,y:cy(v)+8,"text-anchor":"end","font-size":23,class:"sa",fill:"#222"});
    t.textContent=cYTickLabels[p][i];
    
    
  });
  const mid=(L+R)/2;
  const tt=mk(g,"text",{x:mid,y:cTextY[p][0]+8,"text-anchor":"middle","font-size":23,class:"sa",fill:"#222"});
  tt.textContent="STAD (415 samples)";
  
  
  const xl=mk(g,"text",{x:mid,y:cTextY[p][1]+8,"text-anchor":"middle","font-size":23,class:"sa",fill:"#222"});
  xl.textContent="SH3BGRL3_exp";
  
  
  const sp=mk(g,"text",{x:mid,y:cTextY[p][2]+8,"text-anchor":"middle","font-size":23,class:"sa",fill:"#222"});
  sp.textContent="Spearman correlation test:";
  
  
  const rr=mk(g,"text",{x:mid,y:cTextY[p][3]+8,"text-anchor":"middle","font-size":23,class:"sa",fill:"#222"});
  rr.textContent=cRho[p];
  if(cRhoExp[p]){ const s2=document.createElementNS(NS,"tspan"); s2.setAttribute("font-size","15"); s2.setAttribute("dy","-10"); s2.textContent=cRhoExp[p]; rr.appendChild(s2); }
  
  
  const yt=mk(g,"text",{transform:`translate(${cYTitleX[p]},${(T+B)/2}) rotate(-90)`,"text-anchor":"middle","font-size":23,class:"sa",fill:"#222"});
  yt.textContent=cYTitles[p];
  
  
}
</script>
</body></html>
